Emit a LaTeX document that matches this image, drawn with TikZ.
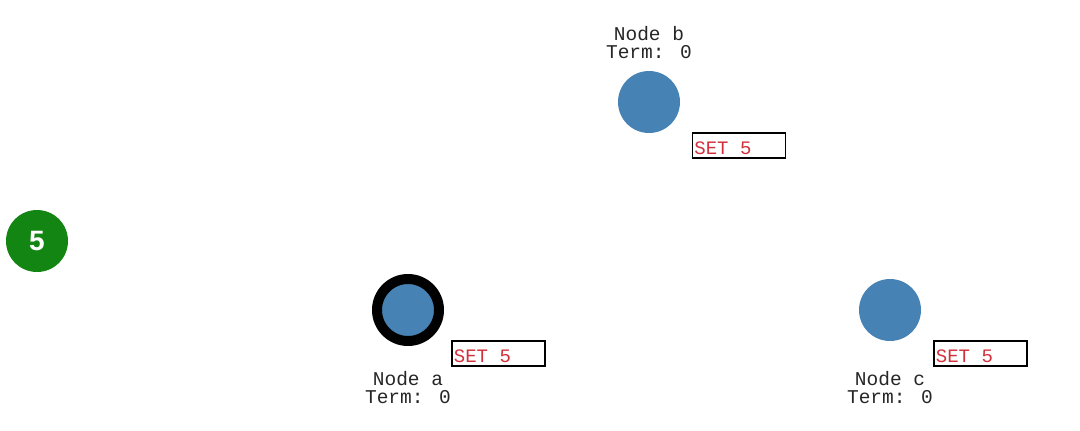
\documentclass[tikz,border=0pt]{standalone}
\usepackage{fontspec}
\setmainfont{Liberation Serif}
\newfontfamily\monofont{Liberation Mono}
\newfontfamily\sansfont{Liberation Sans}
\definecolor{steel}{HTML}{4682B4}
\definecolor{setred}{HTML}{D0313B}
\definecolor{termgreen}{HTML}{128512}
\tikzset{
  peer/.style={circle, fill=steel, minimum size=62pt, inner sep=0pt},
  leader/.style={circle, fill=steel, draw=black, line width=10pt, minimum size=62pt, inner sep=0pt},
  label text/.style={font=\monofont\fontsize{19.5}{18}\selectfont, text=black!85, align=center, inner sep=0pt},
  setbox/.style={draw=black, line width=1.6pt, minimum width=93pt, minimum height=25pt, inner sep=0pt},
  settext/.style={font=\monofont\fontsize{19}{19}\selectfont, text=setred, inner sep=0pt, anchor=base west},
  counter/.style={circle, fill=termgreen, minimum size=62pt, inner sep=0pt, text=white, font=\sansfont\bfseries\fontsize{28}{28}\selectfont}
}
\begin{document}
\begin{tikzpicture}[x=1pt,y=-1pt]
\useasboundingbox (0,0) rectangle (1080,431);
\fill[white] (0,0) rectangle (1080,431);
% timer
\node[counter] (timer) at (37,241) {5};
% node a
\node[leader] (a) at (408,310) {};
\node[label text] (alabel) at (408,388) {Node a\\Term: 0};
\node[setbox] (aset) at (498.5,353.5) {};
\node[settext] (asettext) at ([xshift=2.5pt,yshift=-9pt]aset.west) {SET 5};
% node b
\node[peer] (b) at (649,102) {};
\node[label text] (blabel) at (649,43) {Node b\\Term: 0};
\node[setbox] (bset) at (739,145.5) {};
\node[settext] (bsettext) at ([xshift=2.5pt,yshift=-9pt]bset.west) {SET 5};
% node c
\node[peer] (c) at (890,310) {};
\node[label text] (clabel) at (890,388) {Node c\\Term: 0};
\node[setbox] (cset) at (980.5,353.5) {};
\node[settext] (csettext) at ([xshift=2.5pt,yshift=-9pt]cset.west) {SET 5};
\end{tikzpicture}
\end{document}
